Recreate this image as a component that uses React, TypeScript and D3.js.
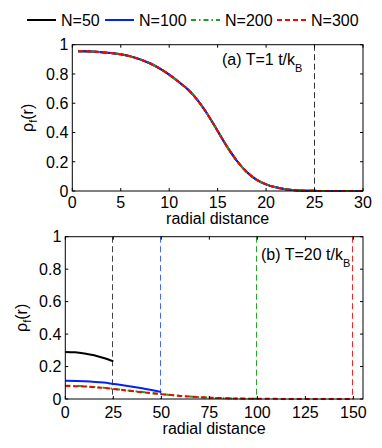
import React from "react";
import * as d3 from "d3";

// ---- data ----
const seriesNames = ["N=50", "N=100", "N=200", "N=300"];
const seriesColors = ["#000000", "#0022ff", "#1f9e1f", "#ff0000"];
const seriesDash = ["", "", "5,3,1.5,3", "5,3"];

// panel (a) T=1: all four N coincide
const topR = [0.6, 1, 2, 3, 4, 5, 6, 7, 8, 9, 10, 11, 12, 13, 14, 15, 16, 17, 18, 19, 20, 21, 22, 23, 24, 25, 26, 27, 28, 29, 30];
const topRho = [0.955, 0.955, 0.953, 0.949, 0.943, 0.934, 0.92, 0.9, 0.873, 0.838, 0.795, 0.745, 0.69, 0.615, 0.52, 0.41, 0.3, 0.205, 0.13, 0.078, 0.045, 0.025, 0.012, 0.005, 0.002, 0.001, 0, 0, 0, 0, 0];
const topCutoffs = [25];

// panel (b) T=20
const bR50 = [0, 5, 10, 15, 20, 25];
const bRho50 = [0.29, 0.288, 0.281, 0.27, 0.253, 0.232];
const bR100 = [0, 10, 20, 25, 30, 40, 50];
const bRho100 = [0.113, 0.11, 0.101, 0.093, 0.085, 0.066, 0.043];
const bR200 = [0, 10, 20, 25, 30, 40, 50, 60, 70, 80, 90, 100];
const bRho200 = [0.082, 0.078, 0.069, 0.063, 0.056, 0.043, 0.03, 0.019, 0.011, 0.006, 0.003, 0.001];
const bR300 = [0, 10, 20, 25, 30, 40, 50, 60, 70, 80, 90, 100, 110, 120, 130, 140, 150];
const bRho300 = [0.08, 0.077, 0.068, 0.062, 0.055, 0.042, 0.03, 0.019, 0.011, 0.006, 0.003, 0.0015, 0.0008, 0.0004, 0.0002, 0.0001, 0];
const bottomCutoffs = [25, 50, 100, 150];

const topXTicks = [0, 5, 10, 15, 20, 25, 30];
const bottomXTicks = [0, 25, 50, 75, 100, 125, 150];
const yTicks = [0, 0.2, 0.4, 0.6, 0.8, 1];
const yTickLabels = ["0", "0.2", "0.4", "0.6", "0.8", "1"];

const FONT = "'Liberation Sans', Arial, Helvetica, sans-serif";

type Series = { r: number[]; v: number[] };

function Panel(props: {
  left: number; right: number; top: number; bottom: number;
  xDomain: [number, number]; xTicks: number[];
  series: Series[]; cutoffs: number[]; cutoffColors: string[];
  label: string; labelX: number; labelY: number;
  yLabelX: number; xTickDy: number; xLabelY: number;
}) {
  const { left, right, top, bottom, xDomain, xTicks, series, cutoffs, cutoffColors } = props;
  const x = d3.scaleLinear().domain(xDomain).range([left, right]);
  const y = d3.scaleLinear().domain([0, 1]).range([bottom, top]);
  const tl = 3;
  const line = d3.line<[number, number]>().x(d => x(d[0])).y(d => y(d[1])).curve(d3.curveMonotoneX);
  return (
    <g>
      {cutoffs.map((c, i) => {
        const cx = Math.round(x(c)) - 0.5;
        return (
          <line key={"c" + i} x1={cx} x2={cx} y1={top} y2={bottom}
            stroke={cutoffColors[i]} strokeWidth={1} strokeDasharray="6,3.5" />
        );
      })}
      {series.map((s, i) => (
        <path key={"s" + i} d={line(s.r.map((r, k) => [r, s.v[k]] as [number, number])) || ""}
          fill="none" stroke={seriesColors[i]} strokeWidth={2}
          strokeDasharray={seriesDash[i] || undefined} />
      ))}
      <rect x={left} y={top} width={right - left} height={bottom - top} fill="none" stroke="#000" strokeWidth={1} />
      {xTicks.map(t => (
        <g key={"xt" + t}>
          <line x1={x(t)} x2={x(t)} y1={bottom} y2={bottom - tl} stroke="#000" />
          <line x1={x(t)} x2={x(t)} y1={top} y2={top + tl} stroke="#000" />
          <text x={x(t)} y={bottom + props.xTickDy} textAnchor="middle" fontSize={16} fontFamily={FONT}>{t}</text>
        </g>
      ))}
      {yTicks.map((t, i) => (
        <g key={"yt" + t}>
          <line x1={left} x2={left + tl} y1={y(t)} y2={y(t)} stroke="#000" />
          <line x1={right} x2={right - tl} y1={y(t)} y2={y(t)} stroke="#000" />
          <text x={left - 4} y={y(t)} dy="0.36em" textAnchor="end" fontSize={16} fontFamily={FONT}>{yTickLabels[i]}</text>
        </g>
      ))}
      <text x={(left + right) / 2} y={props.xLabelY} textAnchor="middle" fontSize={16} fontFamily={FONT}>radial distance</text>
      <text transform={`translate(${props.yLabelX},${(top + bottom) / 2}) rotate(-90)`} textAnchor="middle" fontSize={16} fontFamily={FONT}>
        ρ<tspan fontSize={11} dy={4}>f</tspan><tspan dy={-4}>(r)</tspan>
      </text>
      <text x={props.labelX} y={props.labelY} fontSize={16} fontFamily={FONT}>
        {props.label}<tspan fontSize={11} dy={7}>B</tspan>
      </text>
    </g>
  );
}

export default function App() {
  const topSeries: Series[] = seriesNames.map(() => ({ r: topR, v: topRho }));
  const bottomSeries: Series[] = [
    { r: bR50, v: bRho50 },
    { r: bR100, v: bRho100 },
    { r: bR200, v: bRho200 },
    { r: bR300, v: bRho300 },
  ];
  const legendLineX = [27, 105, 191, 277];
  return (
    <svg width={382} height={448} style={{ position: "absolute", left: 0, top: 0, background: "#fff" }}>
      <rect width={382} height={448} fill="#fff" />
      {seriesNames.map((n, i) => (
        <g key={n}>
          <line x1={legendLineX[i]} x2={legendLineX[i] + 29} y1={20} y2={20}
            stroke={seriesColors[i]} strokeWidth={2} strokeDasharray={seriesDash[i] || undefined} />
          <text x={legendLineX[i] + 34} y={26} fontSize={16} fontFamily={FONT}>{n}</text>
        </g>
      ))}
      <Panel left={72.3} right={363} top={44.7} bottom={191} xDomain={[0, 30]} xTicks={topXTicks}
        series={topSeries} cutoffs={topCutoffs} cutoffColors={["#333"]}
        label="(a) T=1 t/k" labelX={222} labelY={64.5} yLabelX={33} xTickDy={17} xLabelY={224} />
      <Panel left={65.3} right={363} top={236.7} bottom={399} xDomain={[0, 155]} xTicks={bottomXTicks}
        series={bottomSeries} cutoffs={bottomCutoffs} cutoffColors={["#444", "#4466ff", "#22aa22", "#ff2020"]}
        label="(b) T=20 t/k" labelX={261} labelY={260} yLabelX={27} xTickDy={19} xLabelY={434} />
    </svg>
  );
}
